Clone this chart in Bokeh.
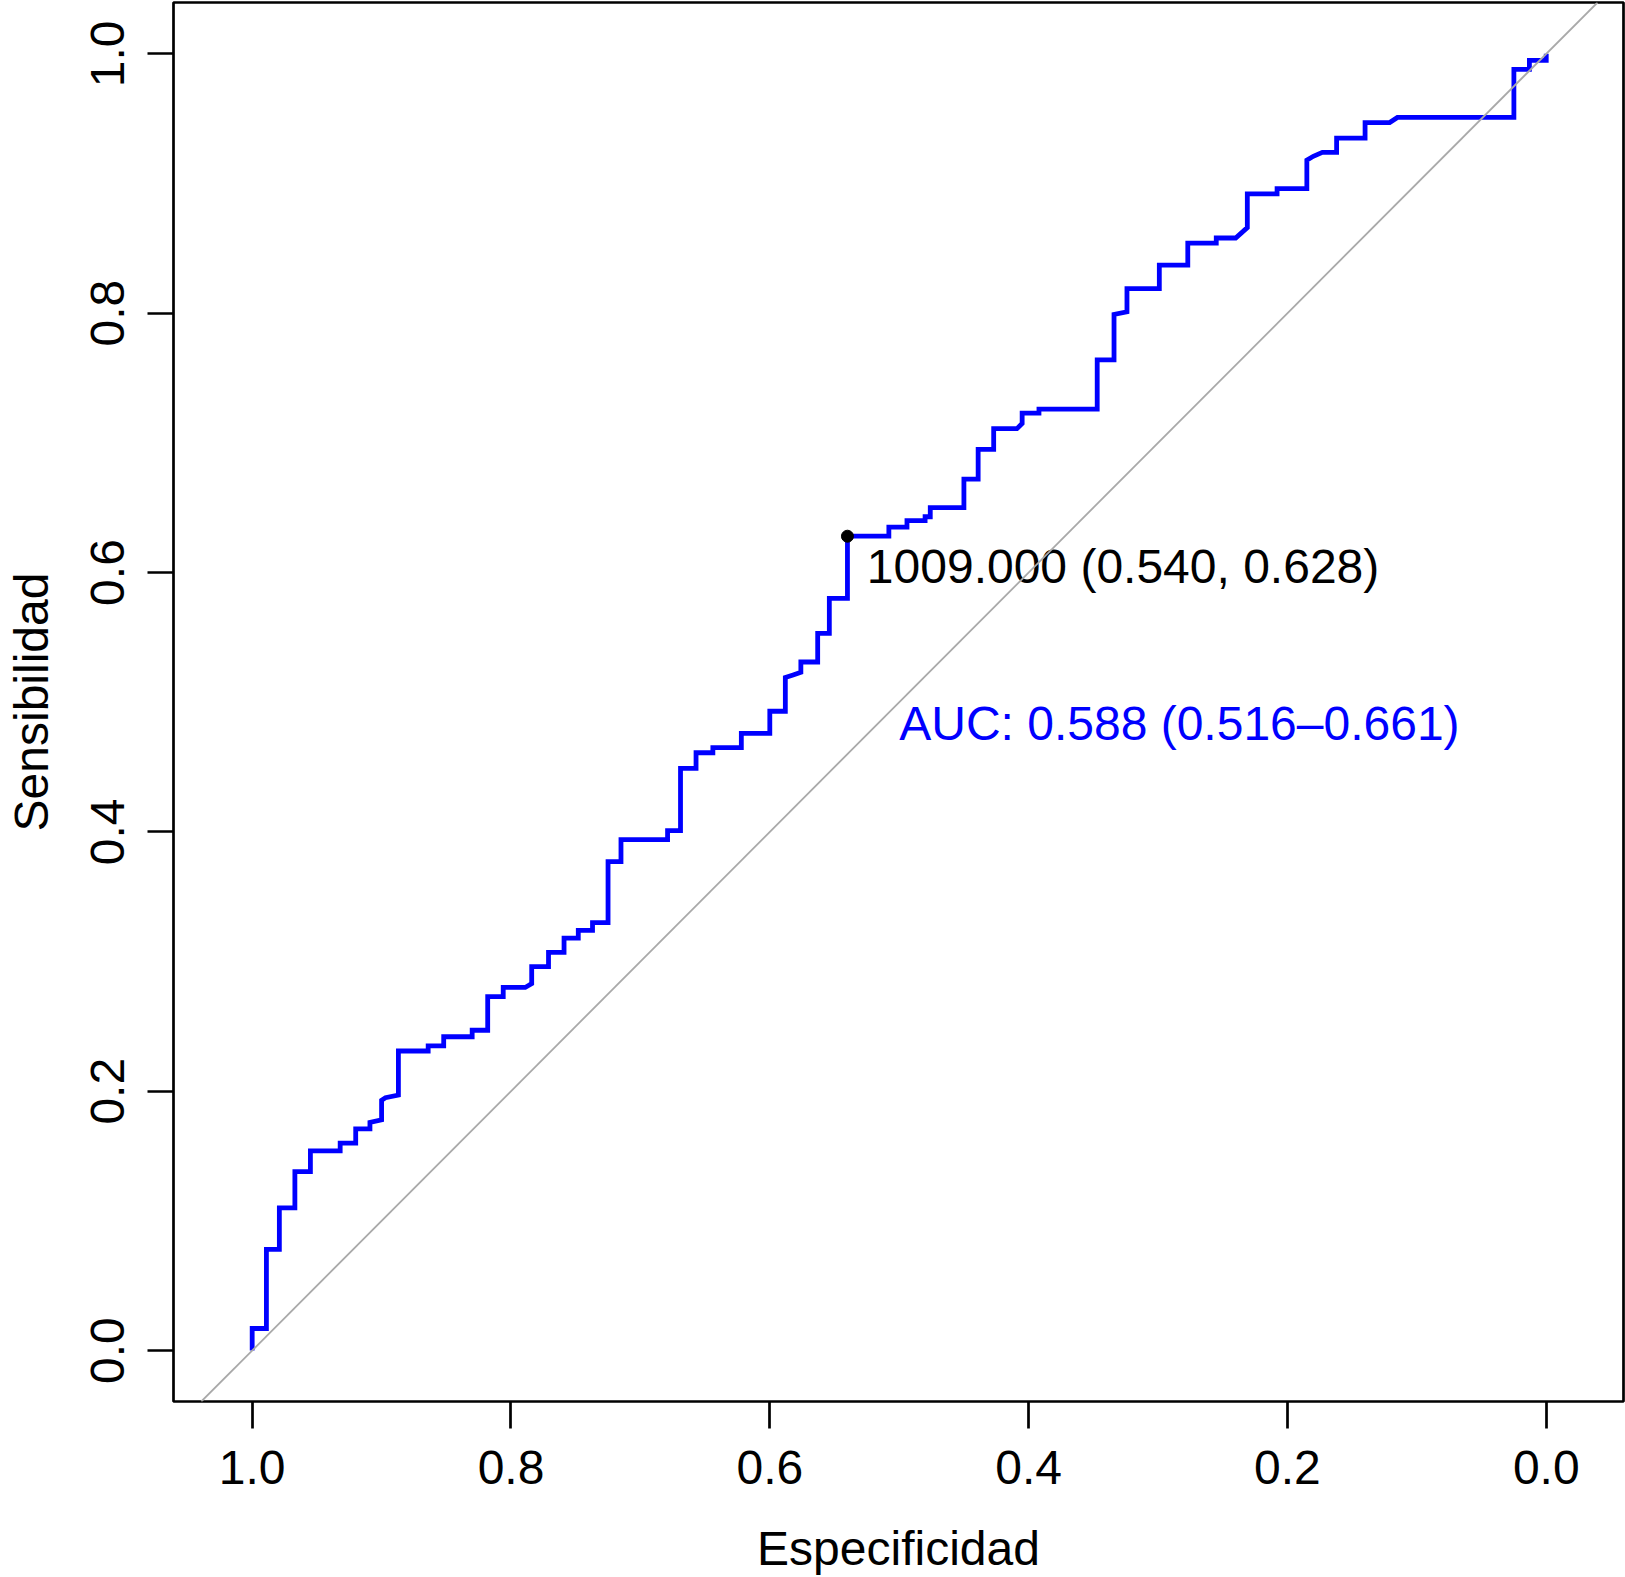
from bokeh.plotting import figure
from bokeh.models import Range1d, FixedTicker, CustomJSTickFormatter, Slope
from bokeh.core.properties import value
from bokeh.embed import file_html
from bokeh.resources import INLINE

# ROC curve vertices (specificity, sensitivity)
specificity = [1.000, 1.000, 0.989, 0.989, 0.979, 0.979, 0.967, 0.967, 0.955, 0.955,
               0.932, 0.932, 0.920, 0.920, 0.909, 0.909, 0.900, 0.900, 0.897, 0.887,
               0.887, 0.864, 0.864, 0.852, 0.852, 0.830, 0.830, 0.818, 0.818, 0.806,
               0.806, 0.789, 0.784, 0.784, 0.771, 0.771, 0.759, 0.759, 0.748, 0.748,
               0.737, 0.737, 0.725, 0.725, 0.715, 0.715, 0.679, 0.679, 0.669, 0.669,
               0.657, 0.657, 0.644, 0.644, 0.622, 0.622, 0.600, 0.600, 0.588, 0.588,
               0.582, 0.576, 0.576, 0.563, 0.563, 0.554, 0.554, 0.540, 0.540, 0.508,
               0.508, 0.494, 0.494, 0.480, 0.480, 0.476, 0.476, 0.450, 0.450, 0.439,
               0.439, 0.427, 0.427, 0.409, 0.405, 0.405, 0.392, 0.392, 0.347, 0.347,
               0.334, 0.334, 0.324, 0.324, 0.299, 0.299, 0.277, 0.277, 0.255, 0.255,
               0.240, 0.231, 0.231, 0.208, 0.208, 0.185, 0.185, 0.180, 0.173, 0.162,
               0.162, 0.140, 0.140, 0.121, 0.115, 0.025, 0.025, 0.013, 0.013, 0.000,
               0.000]
sensitivity = [0.000, 0.017, 0.017, 0.078, 0.078, 0.110, 0.110, 0.138, 0.138, 0.154,
               0.154, 0.160, 0.160, 0.171, 0.171, 0.176, 0.178, 0.193, 0.195, 0.197,
               0.231, 0.231, 0.235, 0.235, 0.242, 0.242, 0.247, 0.247, 0.273, 0.273,
               0.280, 0.280, 0.283, 0.296, 0.296, 0.307, 0.307, 0.318, 0.318, 0.324,
               0.324, 0.330, 0.330, 0.377, 0.377, 0.394, 0.394, 0.401, 0.401, 0.449,
               0.449, 0.461, 0.461, 0.465, 0.465, 0.476, 0.476, 0.493, 0.493, 0.519,
               0.521, 0.523, 0.531, 0.531, 0.553, 0.553, 0.580, 0.580, 0.628, 0.628,
               0.635, 0.635, 0.640, 0.640, 0.643, 0.643, 0.650, 0.650, 0.672, 0.672,
               0.695, 0.695, 0.711, 0.711, 0.715, 0.723, 0.723, 0.726, 0.726, 0.764,
               0.764, 0.799, 0.801, 0.819, 0.819, 0.837, 0.837, 0.854, 0.854, 0.858,
               0.858, 0.866, 0.892, 0.892, 0.896, 0.896, 0.918, 0.921, 0.924, 0.924,
               0.935, 0.935, 0.947, 0.947, 0.951, 0.951, 0.988, 0.988, 0.995, 0.995,
               1.000]

best_threshold = 1009.000
best_spec = 0.540
best_sens = 0.628
auc_value = 0.588
auc_low = 0.516
auc_high = 0.661

tick_values = [0.0, 0.2, 0.4, 0.6, 0.8, 1.0]
x_title = "Especificidad"
y_title = "Sensibilidad"

FONT = "Liberation Sans"
FS = "48px"

p = figure(width=1625, height=1577, output_backend="svg", toolbar_location=None,
           x_range=Range1d(1.0608, -0.0597), y_range=Range1d(-0.0393, 1.0396),
           min_border_left=173, min_border_right=2, min_border_top=2,
           min_border_bottom=176)
p.background_fill_color = "white"
p.border_fill_color = "white"
p.outline_line_color = "black"
p.outline_line_width = 2.7
p.grid.visible = False

for ax in (p.xaxis[0], p.yaxis[0]):
    ax.ticker = FixedTicker(ticks=tick_values)
    ax.formatter = CustomJSTickFormatter(code="return tick.toFixed(1);")
    ax.minor_tick_line_color = None
    ax.major_tick_in = 0
    ax.major_tick_line_color = "black"
    ax.major_tick_line_width = 2.7
    ax.axis_line_color = None
    ax.major_label_text_font = FONT
    ax.major_label_text_font_size = FS
    ax.major_label_text_color = "black"
    ax.axis_label_text_font = FONT
    ax.axis_label_text_font_size = FS
    ax.axis_label_text_font_style = "normal"
    ax.axis_label_text_color = "black"

p.xaxis.axis_label = x_title
p.xaxis.major_tick_out = 27
p.xaxis.major_label_standoff = 22
p.xaxis.axis_label_standoff = 35

p.yaxis.axis_label = y_title
p.yaxis.major_tick_out = 26
p.yaxis.major_label_standoff = 23
p.yaxis.axis_label_standoff = 31
p.yaxis.major_label_orientation = "vertical"

diag = Slope(gradient=-1, y_intercept=1, line_color="#a9a9a9", line_width=1.8)
p.add_layout(diag)

p.line(specificity, sensitivity, line_color="#0000ff", line_width=4.8,
       line_join="miter")

p.scatter([best_spec], [best_sens], size=12, color="black")

thr_label = f"{best_threshold:.3f} ({best_spec:.3f}, {best_sens:.3f})"
auc_label = f"AUC: {auc_value:.3f} ({auc_low:.3f}\u2013{auc_high:.3f})"

p.text(x=[best_spec - 0.015], y=[best_sens - 0.0237], text=[thr_label],
       text_font=value(FONT), text_font_size=value(FS), text_color="black",
       text_align="left", text_baseline="alphabetic")
p.text(x=[0.5], y=[0.4836], text=[auc_label],
       text_font=value(FONT), text_font_size=value(FS), text_color="#0000ff",
       text_align="left", text_baseline="alphabetic")

open("out.html", "w").write(file_html(p, INLINE))
